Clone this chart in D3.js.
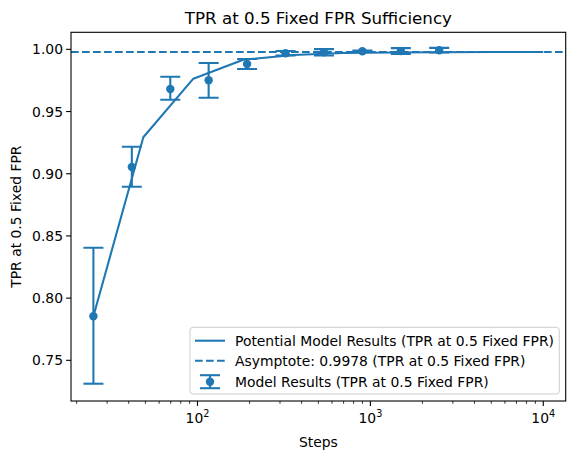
<!DOCTYPE html>
<html><head><meta charset="utf-8">
<script src="https://cdn.jsdelivr.net/npm/d3@7"></script>
<style>body{margin:0;background:#fff}svg{display:block;font-family:"DejaVu Sans",sans-serif}</style>
</head><body><svg id="c" width="576" height="459"></svg>
<script>
const steps = [25, 41.7, 69.6, 116, 193.6, 323, 539, 899, 1500, 2500];
const tpr = [0.7854, 0.9054, 0.9681, 0.9751, 0.9882, 0.9968, 0.9977, 0.9985, 0.9986, 0.9993];
const tprLow = [0.7312, 0.8896, 0.9595, 0.9611, 0.9842, 0.9950, 0.9950, 0.9980, 0.9962, 0.9975];
const tprHigh = [0.8405, 0.9217, 0.9780, 0.9890, 0.9922, 0.9986, 1.0002, 0.9990, 1.0010, 1.0012];
const potSteps = [25, 48.6, 94.6, 184, 358, 697, 1357, 2641, 5139, 10000];
const potTpr = [0.7854, 0.9293, 0.9764, 0.9916, 0.9955, 0.9970, 0.9975, 0.9977, 0.9978, 0.9978];
const asymptote = 0.9978;
const yTicks = [0.75, 0.80, 0.85, 0.90, 0.95, 1.00];
const xMajor = [100, 1000, 10000];
const labels = ["Potential Model Results (TPR at 0.5 Fixed FPR)", "Asymptote: 0.9978 (TPR at 0.5 Fixed FPR)", "Model Results (TPR at 0.5 Fixed FPR)"];
const title = "TPR at 0.5 Fixed FPR Sufficiency";
const xLabel = "Steps", yLabel = "TPR at 0.5 Fixed FPR";

const C = "#1f77b4";
const L = 71, R = 565.7, T = 32.3, B = 401;
const svg = d3.select("#c");
const x = d3.scaleLog().domain([18.55, 13480]).range([L, R]);
const y = d3.scaleLinear().domain([0.7173, 1.0137]).range([B, T]);

// clip
svg.append("clipPath").attr("id","clip").append("rect").attr("x",L).attr("y",T).attr("width",R-L).attr("height",B-T);
const g = svg.append("g").attr("clip-path","url(#clip)");

// asymptote
g.append("line").attr("x1",L).attr("x2",R).attr("y1",y(asymptote)).attr("y2",y(asymptote))
  .attr("stroke",C).attr("stroke-width",2.08).attr("stroke-dasharray","7.7,3.3");
// potential line
g.append("path").datum(potSteps.map((s,i)=>[s,potTpr[i]]))
  .attr("d", d3.line().x(d=>x(d[0])).y(d=>y(d[1])))
  .attr("fill","none").attr("stroke",C).attr("stroke-width",2.08).attr("stroke-linejoin","round");
// errorbars
steps.forEach((s,i)=>{
  const cx = x(s);
  g.append("line").attr("x1",cx).attr("x2",cx).attr("y1",y(tprLow[i])).attr("y2",y(tprHigh[i])).attr("stroke",C).attr("stroke-width",2.08);
  [tprLow[i], tprHigh[i]].forEach(v=>{
    g.append("line").attr("x1",cx-10).attr("x2",cx+10).attr("y1",y(v)).attr("y2",y(v)).attr("stroke",C).attr("stroke-width",2.08);
  });
  g.append("circle").attr("cx",cx).attr("cy",y(tpr[i])).attr("r",4.2).attr("fill",C);
});

// axes
const ax = svg.append("g").attr("font-size","13.9px").attr("fill","#000");
yTicks.forEach(v=>{
  ax.append("line").attr("x1",L-4.9).attr("x2",L).attr("y1",y(v)).attr("y2",y(v)).attr("stroke","#000").attr("stroke-width",1.1);
  ax.append("text").attr("x",L-8).attr("y",y(v)).attr("dy","0.36em").attr("text-anchor","end").text(d3.format(".2f")(v));
});
const minors = [];
for (let e=1;e<=4;e++) for (let m=2;m<=9;m++) minors.push(m*Math.pow(10,e));
minors.filter(v=>x(v)>=L&&x(v)<=R).forEach(v=>{
  ax.append("line").attr("x1",x(v)).attr("x2",x(v)).attr("y1",B).attr("y2",B+2.8).attr("stroke","#000").attr("stroke-width",0.8);
});
xMajor.forEach(v=>{
  ax.append("line").attr("x1",x(v)).attr("x2",x(v)).attr("y1",B).attr("y2",B+4.9).attr("stroke","#000").attr("stroke-width",1.1);
  const t = ax.append("text").attr("x",x(v)).attr("y",B+22).attr("text-anchor","middle");
  t.append("tspan").text("10");
  t.append("tspan").attr("font-size","9.7px").attr("dy","-6").text(Math.round(Math.log10(v)));
});
svg.append("rect").attr("x",L).attr("y",T).attr("width",R-L).attr("height",B-T).attr("fill","none").attr("stroke","#000").attr("stroke-width",1.1);

svg.append("text").attr("x",(L+R)/2).attr("y",24).attr("text-anchor","middle").attr("font-size","16.7px").text(title);
svg.append("text").attr("x",(L+R)/2).attr("y",447).attr("text-anchor","middle").attr("font-size","13.9px").text(xLabel);
svg.append("text").attr("transform",`translate(21,${(T+B)/2}) rotate(-90)`).attr("text-anchor","middle").attr("font-size","13.9px").text(yLabel);

// legend
const lg = svg.append("g");
lg.append("rect").attr("x",190).attr("y",327.3).attr("width",369.3).attr("height",66.7).attr("rx",3)
  .attr("fill","#fff").attr("fill-opacity",0.8).attr("stroke","#cccccc").attr("stroke-width",1);
const rows = [340.7, 360.7, 381.7];
lg.append("line").attr("x1",195).attr("x2",225).attr("y1",rows[0]).attr("y2",rows[0]).attr("stroke",C).attr("stroke-width",2.08);
lg.append("line").attr("x1",195).attr("x2",225).attr("y1",rows[1]).attr("y2",rows[1]).attr("stroke",C).attr("stroke-width",2.08).attr("stroke-dasharray","7.7,3.3");
lg.append("line").attr("x1",210).attr("x2",210).attr("y1",rows[2]-6.5).attr("y2",rows[2]+6.5).attr("stroke",C).attr("stroke-width",2.08);
[rows[2]-6.5, rows[2]+6.5].forEach(v=>lg.append("line").attr("x1",200).attr("x2",220).attr("y1",v).attr("y2",v).attr("stroke",C).attr("stroke-width",2.08));
lg.append("circle").attr("cx",210).attr("cy",rows[2]).attr("r",4.2).attr("fill",C);
labels.forEach((t,i)=>lg.append("text").attr("x",235).attr("y",rows[i]).attr("dy","0.36em").attr("font-size","13.9px").text(t));
</script></body></html>
